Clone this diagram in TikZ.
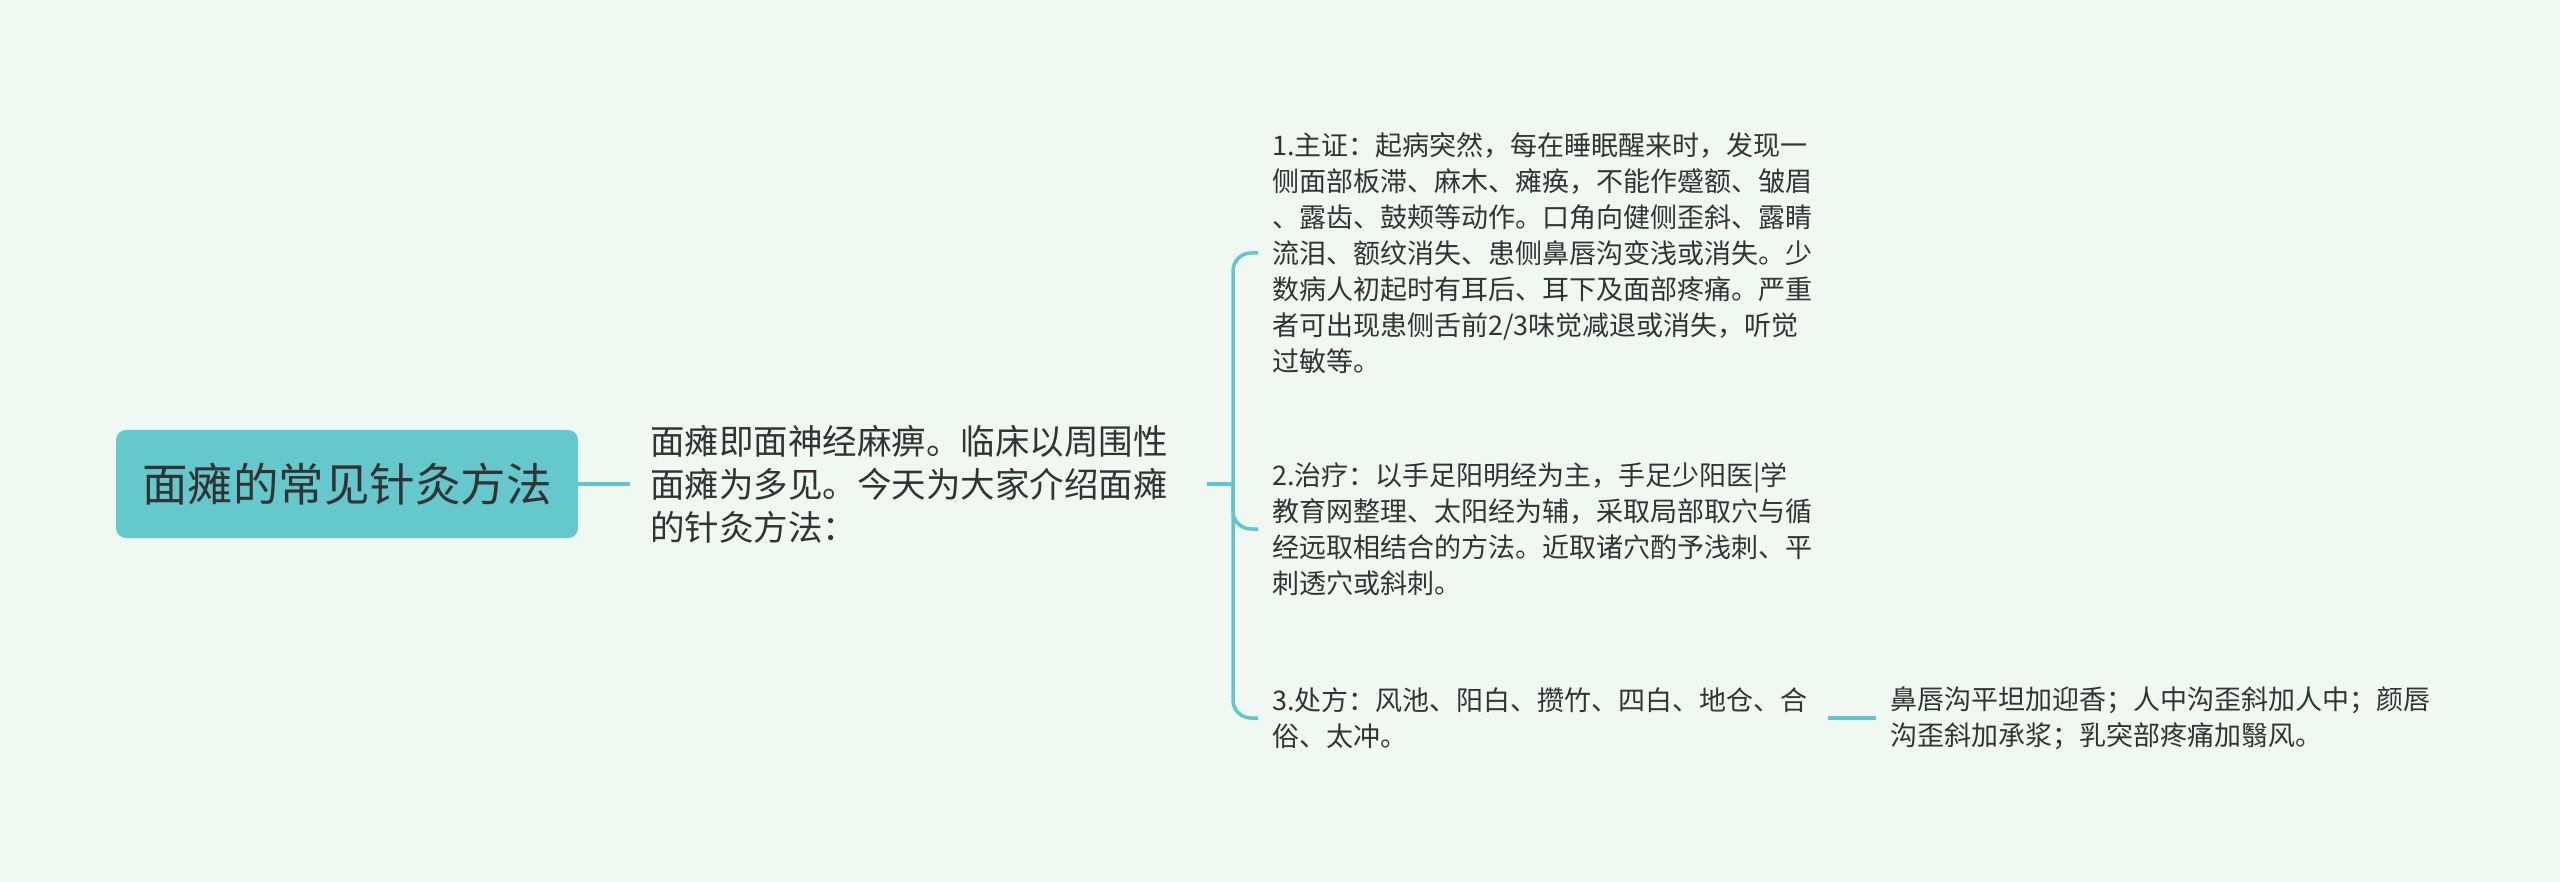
\documentclass[tikz,border=0pt]{standalone}
\usepackage{fontspec}
\setmainfont{Noto Sans CJK SC}
\definecolor{bg}{RGB}{240,249,241}
\definecolor{mmline}{RGB}{99,198,203}
\definecolor{mmfill}{RGB}{100,200,204}
\definecolor{txt}{RGB}{51,51,51}
\newcommand{\cjkstrutx}{\rule[-0.12em]{0pt}{1em}}
\begin{document}
\begin{tikzpicture}[x=1pt,y=-1pt,
  conn/.style={draw=mmline,line width=3.5pt},
  rootbox/.style={fill=mmfill,rounded corners=10pt,minimum width=462pt,minimum height=108pt,inner sep=0pt,text=txt,font=\fontsize{45.5}{55}\selectfont},
  maintext/.style={anchor=west,inner xsep=20pt,inner ysep=0pt,text width=537pt,align=left,text=txt,font=\fontsize{34.5}{43}\selectfont},
  leaf/.style={anchor=west,inner xsep=14pt,inner ysep=0pt,text width=542pt,align=left,text=txt,font=\fontsize{27}{36}\selectfont}]
\useasboundingbox (0,0) rectangle (2560,882);
\fill[bg] (0,0) rectangle (2560,882);

\node[rootbox] (root) at (347,484) {\cjkstrutx 面瘫的常见针灸方法};
\node[maintext] (main) at (630,484) {\cjkstrutx 面瘫即面神经麻痹。临床以周围性\\面瘫为多见。今天为大家介绍面瘫\\的针灸方法：\cjkstrutx};

\node[leaf] (c1) at (1258,253) {\cjkstrutx 1.主证：起病突然，每在睡眠醒来时，发现一\\侧面部板滞、麻木、瘫痪，不能作蹙额、皱眉\\、露齿、鼓颊等动作。口角向健侧歪斜、露睛\\流泪、额纹消失、患侧鼻唇沟变浅或消失。少\\数病人初起时有耳后、耳下及面部疼痛。严重\\者可出现患侧舌前2/3味觉减退或消失，听觉\\过敏等。\cjkstrutx};
\node[leaf] (c2) at (1258,529) {\cjkstrutx 2.治疗：以手足阳明经为主，手足少阳医|学\\教育网整理、太阳经为辅，采取局部取穴与循\\经远取相结合的方法。近取诸穴酌予浅刺、平\\刺透穴或斜刺。\cjkstrutx};
\node[leaf] (c3) at (1258,718) {\cjkstrutx 3.处方：风池、阳白、攒竹、四白、地仓、合\\俗、太冲。\cjkstrutx};
\node[leaf] (gc) at (1876,718) {\cjkstrutx 鼻唇沟平坦加迎香；人中沟歪斜加人中；颜唇\\沟歪斜加承浆；乳突部疼痛加翳风。\cjkstrutx};

\coordinate (hub) at (1233,484);
\draw[conn] (root.east) -- (main.west);
\draw[conn] (main.east) -- (hub);
\draw[conn,rounded corners=18pt] (hub) |- (c1.west);
\draw[conn,rounded corners=18pt] (hub) |- (c2.west);
\draw[conn,rounded corners=18pt] (hub) |- (c3.west);
\draw[conn] (c3.east) -- (gc.west);
\end{tikzpicture}
\end{document}
